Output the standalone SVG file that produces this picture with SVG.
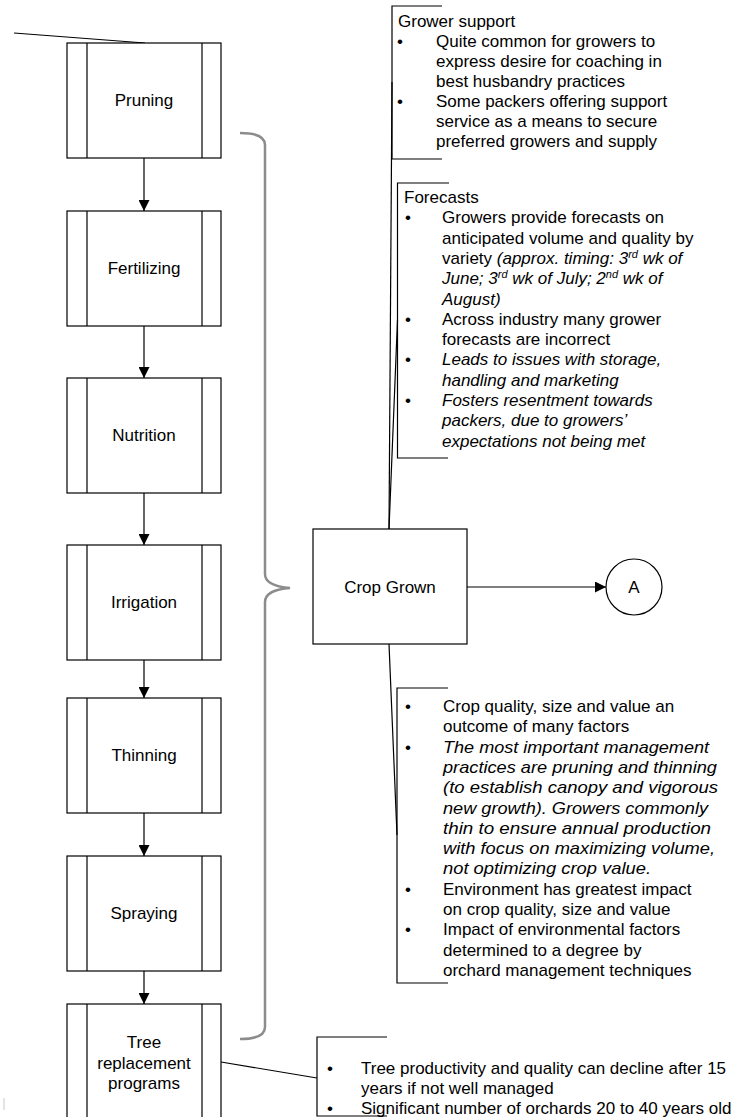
<svg xmlns="http://www.w3.org/2000/svg" width="734" height="1117" viewBox="0 0 734 1117">
<style>
.box{fill:#fff;stroke:#000;stroke-width:1.2}
.ln{fill:none;stroke:#000;stroke-width:1.2}
.t{font-family:"Liberation Sans",Arial,sans-serif;font-size:17px;fill:#000}
.c{text-anchor:middle}
.i{font-style:italic}
.sup{font-size:11px}
.brace{fill:none;stroke:#8c8c8c;stroke-width:2.5}
</style>
<defs>
<marker id="arr" viewBox="0 0 10 10" refX="10" refY="5" markerUnits="userSpaceOnUse" markerWidth="11" markerHeight="11" orient="auto">
<path d="M0,0 L10,5 L0,10 z" fill="#000"/>
</marker>
</defs>
<rect width="734" height="1117" fill="#fff"/>

<g id="connectors">
<line class="ln" x1="14" y1="33" x2="145" y2="43"/>
<line class="ln" x1="144" y1="158" x2="144" y2="211" marker-end="url(#arr)"/>
<line class="ln" x1="144" y1="326" x2="144" y2="378" marker-end="url(#arr)"/>
<line class="ln" x1="144" y1="493" x2="144" y2="545" marker-end="url(#arr)"/>
<line class="ln" x1="144" y1="660" x2="144" y2="698" marker-end="url(#arr)"/>
<line class="ln" x1="144" y1="813" x2="144" y2="856" marker-end="url(#arr)"/>
<line class="ln" x1="144" y1="971" x2="144" y2="1004" marker-end="url(#arr)"/>
<line class="ln" x1="467" y1="587" x2="606" y2="587" marker-end="url(#arr)"/>
<line class="ln" x1="389" y1="529" x2="392" y2="82"/>
<line class="ln" x1="389" y1="529" x2="397.5" y2="320"/>
<line class="ln" x1="389" y1="644" x2="397" y2="835"/>
<line class="ln" x1="221" y1="1062" x2="317" y2="1078"/>
</g>

<g id="brace">
<path class="brace" d="M240,133 Q265,133 265,145 V574 Q265,586 290,588 Q265,590 265,602 V1027 Q265,1039 240,1039"/>
</g>

<g id="pruning">
<rect class="box" x="67" y="43" width="154" height="115"/>
<line class="ln" x1="87" y1="43" x2="87" y2="158"/><line class="ln" x1="202" y1="43" x2="202" y2="158"/>
<text class="t c" x="144" y="106">Pruning</text>
</g>
<g id="fertilizing">
<rect class="box" x="67" y="211" width="154" height="115"/>
<line class="ln" x1="87" y1="211" x2="87" y2="326"/><line class="ln" x1="202" y1="211" x2="202" y2="326"/>
<text class="t c" x="144" y="274">Fertilizing</text>
</g>
<g id="nutrition">
<rect class="box" x="67" y="378" width="154" height="115"/>
<line class="ln" x1="87" y1="378" x2="87" y2="493"/><line class="ln" x1="202" y1="378" x2="202" y2="493"/>
<text class="t c" x="144" y="441">Nutrition</text>
</g>
<g id="irrigation">
<rect class="box" x="67" y="545" width="154" height="115"/>
<line class="ln" x1="87" y1="545" x2="87" y2="660"/><line class="ln" x1="202" y1="545" x2="202" y2="660"/>
<text class="t c" x="144" y="608">Irrigation</text>
</g>
<g id="thinning">
<rect class="box" x="67" y="698" width="154" height="115"/>
<line class="ln" x1="87" y1="698" x2="87" y2="813"/><line class="ln" x1="202" y1="698" x2="202" y2="813"/>
<text class="t c" x="144" y="761">Thinning</text>
</g>
<g id="spraying">
<rect class="box" x="67" y="856" width="154" height="115"/>
<line class="ln" x1="87" y1="856" x2="87" y2="971"/><line class="ln" x1="202" y1="856" x2="202" y2="971"/>
<text class="t c" x="144" y="919">Spraying</text>
</g>
<g id="tree-replacement">
<rect class="box" x="67" y="1004" width="154" height="120"/>
<line class="ln" x1="87" y1="1004" x2="87" y2="1124"/><line class="ln" x1="202" y1="1004" x2="202" y2="1124"/>
<text class="t c" x="144" y="1048">Tree</text>
<text class="t c" x="144" y="1069">replacement</text>
<text class="t c" x="144" y="1089">programs</text>
</g>

<g id="crop-grown">
<rect class="box" x="313" y="529" width="154" height="115"/>
<text class="t c" x="390" y="593">Crop Grown</text>
</g>
<g id="connector-a">
<circle cx="634" cy="587" r="28" fill="#fff" stroke="#000" stroke-width="1.2"/>
<text class="t c" x="634" y="593">A</text>
</g>

<g id="note-grower-support">
<path class="ln" d="M442,6 H392 V159 H442"/>
<text class="t" x="398" y="27">Grower support</text>
<text class="t c" x="400" y="47">•</text>
<text class="t" x="436" y="47">Quite common for growers to</text>
<text class="t" x="436" y="67">express desire for coaching in</text>
<text class="t" x="436" y="87">best husbandry practices</text>
<text class="t c" x="400" y="107">•</text>
<text class="t" x="436" y="107">Some packers offering support</text>
<text class="t" x="436" y="127">service as a means to secure</text>
<text class="t" x="436" y="147">preferred growers and supply</text>
</g>

<g id="note-forecasts">
<path class="ln" d="M449,183 H397.5 V458 H448"/>
<text class="t" x="404" y="203">Forecasts</text>
<text class="t c" x="408" y="223.3">•</text>
<text class="t" x="442" y="223.3">Growers provide forecasts on</text>
<text class="t" x="442" y="243.6">anticipated volume and quality by</text>
<text class="t" x="442" y="263.9">variety <tspan class="i">(approx. timing: 3<tspan class="sup" dy="-6">rd</tspan><tspan dy="6"> wk of</tspan></tspan></text>
<text class="t i" x="442" y="284.2">June; 3<tspan class="sup" dy="-6">rd</tspan><tspan dy="6"> wk of July; 2</tspan><tspan class="sup" dy="-6">nd</tspan><tspan dy="6"> wk of</tspan></text>
<text class="t i" x="442" y="304.5">August)</text>
<text class="t c" x="408" y="324.8">•</text>
<text class="t" x="442" y="324.8">Across industry many grower</text>
<text class="t" x="442" y="345.1">forecasts are incorrect</text>
<text class="t c" x="408" y="365.4">•</text>
<text class="t i" x="442" y="365.4">Leads to issues with storage,</text>
<text class="t i" x="442" y="385.7">handling and marketing</text>
<text class="t c" x="408" y="406">•</text>
<text class="t i" x="442" y="406">Fosters resentment towards</text>
<text class="t i" x="442" y="426.3">packers, due to growers’</text>
<text class="t i" x="442" y="446.6">expectations not being met</text>
</g>

<g id="note-crop-quality">
<path class="ln" d="M448,688 H397 V983 H448"/>
<text class="t c" x="408" y="712">•</text>
<text class="t" x="443" y="712">Crop quality, size and value an</text>
<text class="t" x="443" y="732.3">outcome of many factors</text>
<text class="t c" x="408" y="752.6">•</text>
<text class="t i" x="443" y="752.6" textLength="266" lengthAdjust="spacingAndGlyphs">The most important management</text>
<text class="t i" x="443" y="772.9" textLength="274" lengthAdjust="spacingAndGlyphs">practices are pruning and thinning</text>
<text class="t i" x="443" y="793.2" textLength="275" lengthAdjust="spacingAndGlyphs">(to establish canopy and vigorous</text>
<text class="t i" x="443" y="813.5" textLength="265" lengthAdjust="spacingAndGlyphs">new growth). Growers commonly</text>
<text class="t i" x="443" y="833.8" textLength="268" lengthAdjust="spacingAndGlyphs">thin to ensure annual production</text>
<text class="t i" x="443" y="854.1" textLength="272" lengthAdjust="spacingAndGlyphs">with focus on maximizing volume,</text>
<text class="t i" x="443" y="874.4" textLength="208" lengthAdjust="spacingAndGlyphs">not optimizing crop value.</text>
<text class="t c" x="408" y="894.7">•</text>
<text class="t" x="443" y="894.7">Environment has greatest impact</text>
<text class="t" x="443" y="915">on crop quality, size and value</text>
<text class="t c" x="408" y="935.3">•</text>
<text class="t" x="443" y="935.3">Impact of environmental factors</text>
<text class="t" x="443" y="955.6">determined to a degree by</text>
<text class="t" x="443" y="975.9">orchard management techniques</text>
</g>

<g id="note-tree">
<path class="ln" d="M387,1037 H317 V1116 H387"/>
<text class="t c" x="330" y="1074">•</text>
<text class="t" x="361" y="1074">Tree productivity and quality can decline after 15</text>
<text class="t" x="361" y="1094">years if not well managed</text>
<text class="t c" x="330" y="1114">•</text>
<text class="t" x="361" y="1114">Significant number of orchards 20 to 40 years old</text>
</g>

<line x1="4" y1="1098" x2="4" y2="1110" stroke="#c8c8c8" stroke-width="1"/>
</svg>
